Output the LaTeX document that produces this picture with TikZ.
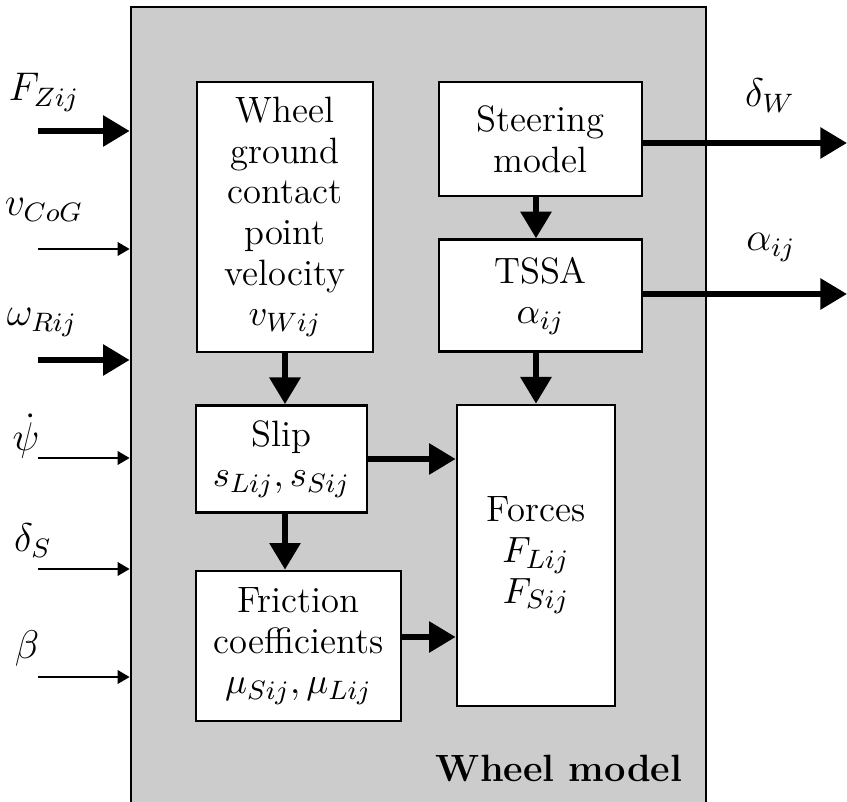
\documentclass[tikz,border=0pt]{standalone}
\usetikzlibrary{arrows.meta,positioning}
\begin{document}
\begin{tikzpicture}[
  x=0.3pt, y=-0.3pt,
  node distance=47pt,
  block/.style={rectangle, draw=black, thick, fill=white, align=center, font=\fontsize{11pt}{12.2pt}\selectfont},
  modelbox/.style={rectangle, draw=black, thick, fill=black!20, minimum width=172.5pt, minimum height=246.9pt},
  signal/.style={font=\large},
  arrow/.style={-{Triangle[length=8pt,width=9pt]}, line width=1.8pt},
  thinarrow/.style={-{Triangle[length=3.6pt,width=4pt]}, line width=0.7pt}
]
\clip (0,0) rectangle (847,802);

% Wheel model frame
\node[modelbox] (wm) at (418.5,418.5) {};
\node[font=\fontsize{11.4pt}{14pt}\selectfont\bfseries, anchor=base east] (wm_label) at (694,781) {Wheel model};

% Left column
\node[block, minimum width=52.8pt, minimum height=81pt] (wheel) at (285,217)
  {Wheel\\ground\\contact\\point\\velocity\\$v_{Wij}$};
\node[block, minimum width=51.3pt, minimum height=32.1pt] (slip) at (281.5,459)
  {Slip\\$s_{Lij}, s_{Sij}$};
\node[block, minimum width=61.5pt, minimum height=45pt] (fric) at (298.5,646)
  {Friction\\coefficients\\$\mu_{Sij}, \mu_{Lij}$};

% Right column
\node[block, minimum width=60.9pt, minimum height=34.2pt] (steer) at (540.5,139)
  {Steering\\model};
\node[block, below of=steer, minimum width=60.9pt, minimum height=33.6pt] (tssa)
  {TSSA\\$\alpha_{ij}$};
\node[block, minimum width=47.4pt, minimum height=90.3pt] (forces) at (536,555.5)
  {Forces\\$F_{Lij}$\\$F_{Sij}$};

% Internal signals
\draw[arrow] (wheel.south) -- (wheel.south |- slip.north);
\draw[arrow] (wheel.south |- slip.south) -- (wheel.south |- fric.north);
\draw[arrow] (forces.north |- steer.south) -- (forces.north |- tssa.north);
\draw[arrow] (forces.north |- tssa.south) -- (forces.north);
\draw[arrow] (slip.east) -- (slip.east -| forces.west);
\draw[arrow] ([yshift=2.7pt]fric.east) -- ([yshift=2.7pt]fric.east -| forces.west);

% Inputs
\coordinate (in_F) at (38,131);
\coordinate (in_v) at (38,249);
\coordinate (in_w) at (38,360);
\coordinate (in_psi) at (38,458);
\coordinate (in_dS) at (38,569);
\coordinate (in_beta) at (38,677);

\draw[arrow] (in_F) -- (in_F -| wm.west);
\draw[thinarrow] (in_v) -- (in_v -| wm.west);
\draw[arrow] (in_w) -- (in_w -| wm.west);
\draw[thinarrow] (in_psi) -- (in_psi -| wm.west);
\draw[thinarrow] (in_dS) -- (in_dS -| wm.west);
\draw[thinarrow] (in_beta) -- (in_beta -| wm.west);

\node[signal] (lbl_F) at (44,92) {$F_{Zij}$};
\node[signal] (lbl_v) at (44,210) {$v_{CoG}$};
\node[signal] (lbl_w) at (42,322) {$\omega_{Rij}$};
\node[signal] (lbl_psi) at (26,436) {$\dot{\psi}$};
\node[signal] (lbl_dS) at (33,541) {$\delta_S$};
\node[signal] (lbl_beta) at (27,648) {$\beta$};

% Outputs
\coordinate (out_dW) at (847,143);
\coordinate (out_a) at (847,294);

\draw[arrow] (steer.east |- out_dW) -- (out_dW);
\draw[arrow] (tssa.east |- out_a) -- (out_a);

\node[signal] (lbl_dW) at (770,96) {$\delta_W$};
\node[signal] (lbl_a) at (771,247) {$\alpha_{ij}$};

\end{tikzpicture}
\end{document}
